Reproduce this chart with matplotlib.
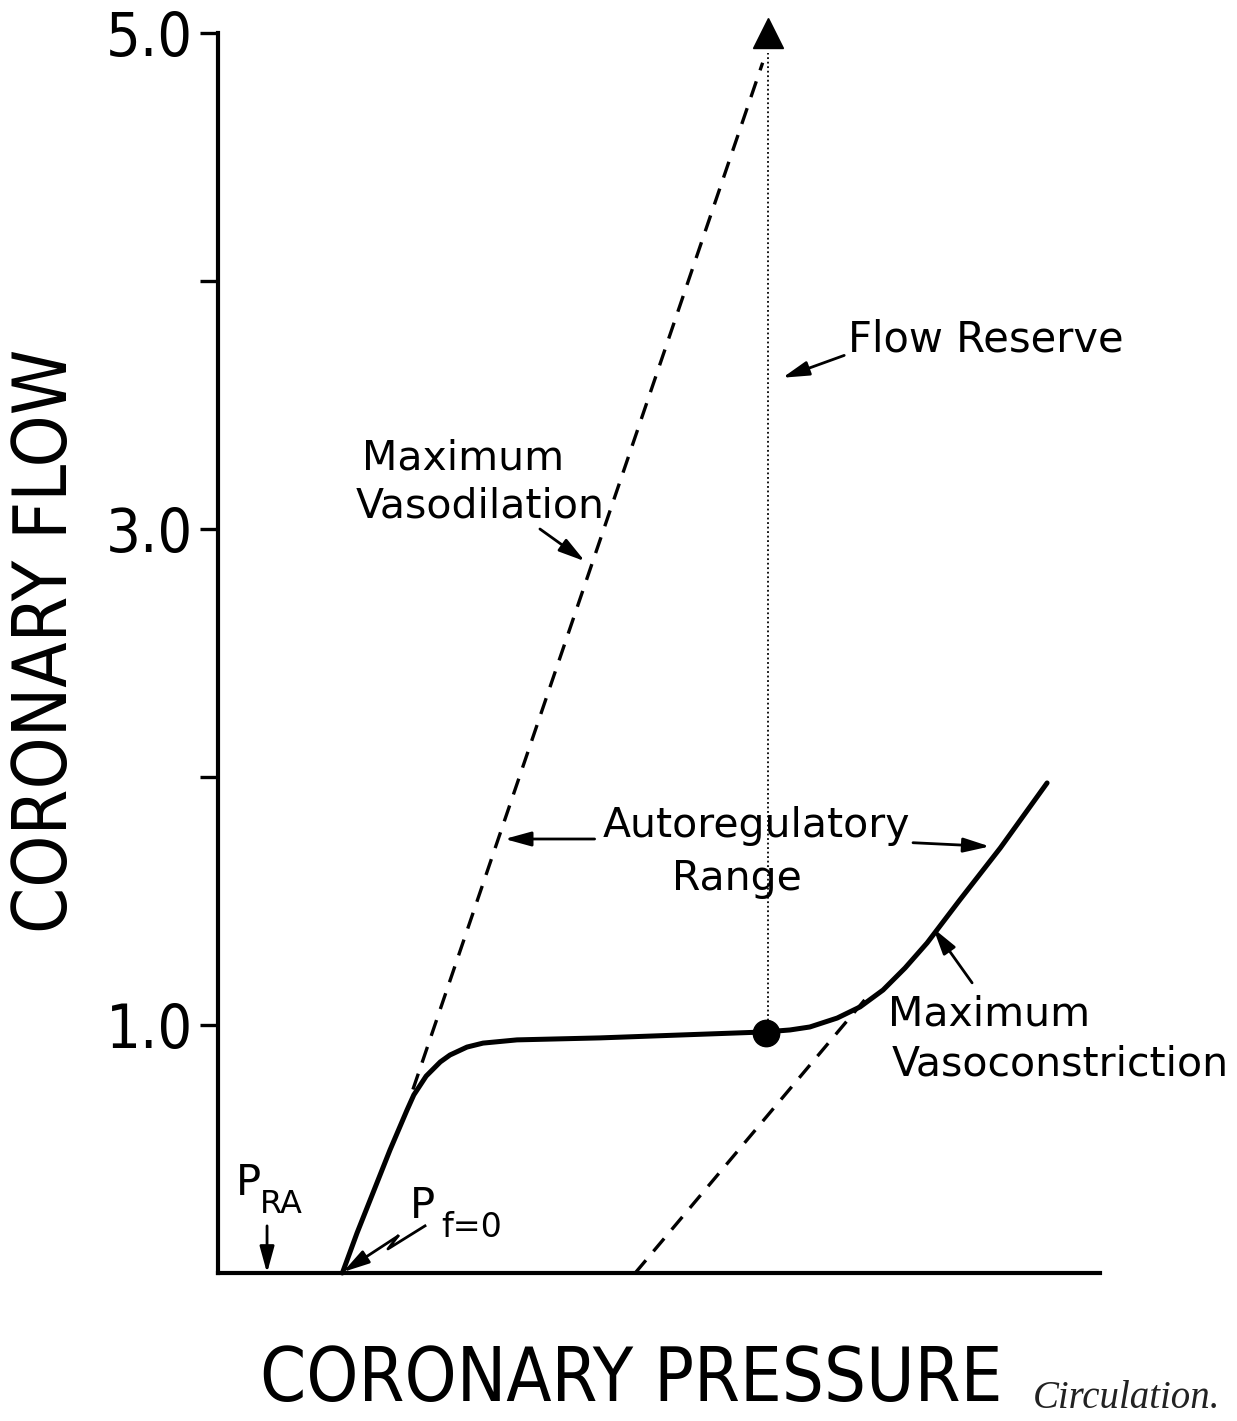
import matplotlib
matplotlib.use('Agg')
import matplotlib.pyplot as plt

plt.rcParams['font.family'] = ['DejaVu Sans']

# 曲线数据（压力为任意单位 0-100，流量为相对值）
auto_p = [14.1, 15.76, 17.57, 19.50, 21.43, 22.2, 23.6, 25.2, 26.30, 28.23, 30.05,
          33.90, 43.31, 62.0, 64.85, 67.1, 70.2, 72.8, 75.4, 77.9, 80.4, 84.1, 88.7, 94.0]
auto_f = [0.0, 0.161, 0.323, 0.496, 0.657, 0.718, 0.794, 0.851, 0.879, 0.911, 0.927,
          0.940, 0.948, 0.972, 0.980, 0.992, 1.028, 1.073, 1.141, 1.230, 1.331, 1.504, 1.714, 1.976]

dil_p = [22.1, 61.75]
dil_f = [0.74, 4.88]

con_p = [47.3, 73.6]
con_f = [0.0, 1.113]

op_p, op_f = 62.1, 0.968        # 工作点
reserve_p = [62.4, 62.4]
reserve_f = [1.0, 4.92]
reserve_top = 5.0

yticks = [1, 2, 3, 4, 5]
ytick_labels = ['1.0', '', '3.0', '', '5.0']

fig = plt.figure(figsize=(12.37, 14.21), dpi=100)
ax = fig.add_axes([218 / 1237, 148 / 1421, 882 / 1237, 1240 / 1421])

ax.set_xlim(0, 100)
ax.set_ylim(0, 5)
for s in ['top', 'right']:
    ax.spines[s].set_visible(False)
for s in ['left', 'bottom']:
    ax.spines[s].set_linewidth(3)
    ax.spines[s].set_capstyle('projecting')

ax.set_xticks([])
ax.set_yticks(yticks)
ax.set_yticklabels(ytick_labels, fontsize=44, fontstretch='condensed')
ax.tick_params(axis='y', direction='out', length=13, width=2.4, pad=5)

ax.set_ylabel('CORONARY FLOW', fontsize=53, fontstretch='condensed', va='center')
ax.yaxis.set_label_coords(-0.195, 0.51)
ax.set_xlabel('CORONARY PRESSURE', fontsize=53, fontstretch='condensed', va='center')
ax.xaxis.set_label_coords(0.469, -0.087)

# 曲线
ax.plot(auto_p, auto_f, color='black', lw=3.6, solid_capstyle='round',
        solid_joinstyle='round', clip_on=False)
ax.plot(dil_p, dil_f, color='black', lw=2.4, dashes=(5, 3.5), clip_on=False)
ax.plot(con_p, con_f, color='black', lw=2.4, dashes=(5, 3.5), clip_on=False)
ax.plot(reserve_p, reserve_f, color='black', lw=1.3, linestyle=(0, (1, 1.5)), clip_on=False)
ax.plot([reserve_p[0]], [reserve_top], marker='^', markersize=21, color='black', clip_on=False)
ax.plot([op_p], [op_f], marker='o', markersize=19, color='black', clip_on=False)


def arrow(tail, tip):
    ax.annotate('', xy=tip, xytext=tail,
                arrowprops=dict(arrowstyle='-|>,head_length=0.8,head_width=0.22',
                                lw=2, color='black', shrinkA=0, shrinkB=0,
                                mutation_scale=20), annotation_clip=False)


# 文字标注
fs = 29.5
ax.text(71.4, 3.714, 'Flow Reserve', fontsize=30, ha='left', va='baseline')
arrow((71.0, 3.70), (64.0, 3.61))

ax.text(27.8, 3.238, 'Maximum', fontsize=fs, ha='center', va='baseline')
ax.text(29.7, 3.048, 'Vasodilation', fontsize=fs, ha='center', va='baseline')
arrow((36.5, 3.00), (41.6, 2.87))

ax.text(61.1, 1.758, 'Autoregulatory', fontsize=fs, ha='center', va='baseline')
ax.text(58.8, 1.544, 'Range', fontsize=fs, ha='center', va='baseline')
arrow((42.7, 1.75), (32.5, 1.75))
arrow((78.8, 1.735), (87.5, 1.72))

ax.text(75.96, 1.0, 'Maximum', fontsize=fs, ha='left', va='baseline')
ax.text(76.4, 0.798, 'Vasoconstriction', fontsize=fs, ha='left', va='baseline')
arrow((85.5, 1.17), (81.1, 1.39))

ax.text(2.04, 0.315, 'P', fontsize=30, ha='left', va='baseline')
ax.text(4.76, 0.242, 'RA', fontsize=23, ha='left', va='baseline')
arrow((5.56, 0.19), (5.56, 0.0))

ax.text(21.8, 0.222, 'P', fontsize=30, ha='left', va='baseline')
ax.text(25.3, 0.145, 'f=0', fontsize=24, ha='left', va='baseline')
# 折线形箭头
zig_p = [23.47, 19.27, 20.41]
zig_f = [0.190, 0.097, 0.149]
ax.plot(zig_p, zig_f, color='black', lw=2, clip_on=False)
arrow((20.41, 0.149), (14.17, 0.004))

fig.text(1033 / 1237, 23 / 1421, 'Circulation.', fontsize=28,
         family='Liberation Serif', style='italic', ha='left', va='center', color='#222222')

plt.savefig('out.png', dpi=100)
